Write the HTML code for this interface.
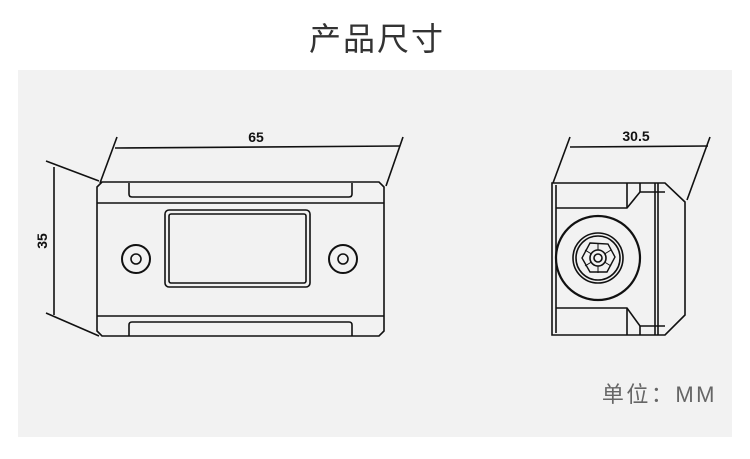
<!DOCTYPE html>
<html><head><meta charset="utf-8"><style>
body{margin:0;width:750px;height:454px;background:#fff;overflow:hidden;font-family:"Liberation Sans","Noto Sans CJK SC",sans-serif}
</style></head><body>
<svg width="750" height="454" viewBox="0 0 750 454" xmlns="http://www.w3.org/2000/svg">
<rect x="18" y="70" width="714" height="367" fill="#f2f2f2"/>
<text x="377" y="50" font-size="32" text-anchor="middle" fill="#333" font-family="Noto Sans CJK SC, sans-serif" letter-spacing="2">产品尺寸</text>
<text x="717" y="402" font-size="22" text-anchor="end" fill="#666" font-family="Liberation Sans, Noto Sans CJK SC, sans-serif" letter-spacing="2.5">单位：MM</text>
<g fill="none" stroke="#111" stroke-width="1.6">
<path d="M102 182 H379 L384 187 V331 L379 336 H102 L97 331 V187 Z"/>
<line x1="97" y1="203" x2="384" y2="203"/>
<line x1="97" y1="316" x2="384" y2="316"/>
<path d="M129 183 V194 Q129 197 132 197 H349 Q352 197 352 194 V183"/>
<path d="M129 336 V325 Q129 322 132 322 H349 Q352 322 352 325 V336"/>
<rect x="165" y="210" width="145" height="77" rx="4"/>
<rect x="169" y="214" width="137" height="69" rx="2"/>
<circle cx="136" cy="259" r="14" stroke-width="2"/><circle cx="136" cy="259" r="5"/>
<circle cx="343" cy="259" r="14" stroke-width="2"/><circle cx="343" cy="259" r="5"/>
<line x1="115" y1="148" x2="400" y2="146"/>
<line x1="117" y1="137" x2="100" y2="183"/>
<line x1="403" y1="137" x2="386" y2="186"/>
<line x1="54" y1="167" x2="54" y2="315"/>
<line x1="46" y1="161" x2="99" y2="181"/>
<line x1="46" y1="313" x2="99" y2="336"/>
<path d="M552 183 H665 L685 202 V315 L665 335 H552 Z"/>
<line x1="556" y1="185" x2="556" y2="333"/>
<line x1="655" y1="183" x2="655" y2="335"/>
<line x1="658" y1="183" x2="658" y2="335"/>
<path d="M556 208 H627 L640 192 H665"/>
<line x1="627" y1="183" x2="627" y2="208"/>
<line x1="640" y1="183" x2="640" y2="192"/>
<path d="M556 308 H627 L640 326 H665"/>
<line x1="627" y1="308" x2="627" y2="335"/>
<line x1="640" y1="326" x2="640" y2="335"/>
<circle cx="598" cy="258" r="42" stroke-width="2.2"/>
<circle cx="598" cy="258" r="25"/>
<circle cx="598" cy="258" r="22"/>
<path d="M590 243 L608 244 L615 257 L607 272 L590 272 L582 258 Z" stroke-width="1.4"/>
<path d="M585 250 L611 266 M585 266 L611 250 M598 243 V273" stroke-width="1"/>
<circle cx="598" cy="258" r="8" fill="#f2f2f2" stroke-width="1.6"/>
<circle cx="598" cy="258" r="4"/>
<line x1="570" y1="147" x2="708" y2="146"/>
<line x1="570" y1="137" x2="553" y2="183"/>
<line x1="710" y1="137" x2="687" y2="200"/>
</g>
<g font-family="Liberation Sans, sans-serif" font-weight="bold" font-size="14" fill="#111">
<text x="256" y="142" text-anchor="middle">65</text>
<text x="636" y="141" text-anchor="middle">30.5</text>
<text transform="translate(47,241) rotate(-90)" text-anchor="middle">35</text>
</g>
</svg>
</body></html>
